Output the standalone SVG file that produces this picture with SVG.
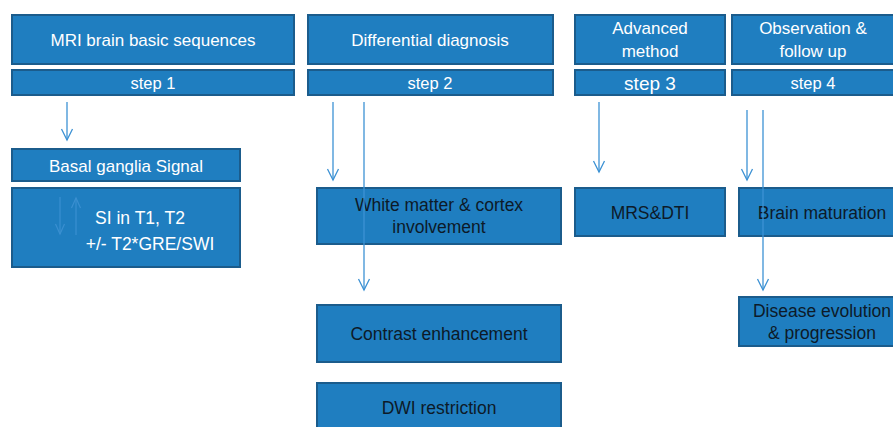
<svg xmlns="http://www.w3.org/2000/svg" width="893" height="427" viewBox="0 0 893 427">
<style>
.box{fill:#1f7ec0;stroke:#1b5c8c;stroke-width:2}
.w{fill:#ffffff;font-family:"Liberation Sans",Arial,sans-serif;font-size:17px;text-anchor:middle}
.k{fill:#0d1a28;font-family:"Liberation Sans",Arial,sans-serif;font-size:17.5px;text-anchor:middle}
.s{font-size:16.5px}
.conn{stroke:#3d92d4;stroke-width:1.3;fill:none}
.faint{stroke:#3a8fd0;stroke-width:1.2;fill:none}
</style>
<defs>
<marker id="ah" markerUnits="userSpaceOnUse" markerWidth="16" markerHeight="16" viewBox="-14 -8 16 16" refX="0" refY="0" orient="auto" overflow="visible">
<path d="M-11,-5.5 L0,0 L-11,5.5" fill="none" stroke="#3d92d4" stroke-width="1.3"/>
</marker>
<marker id="fh" markerUnits="userSpaceOnUse" markerWidth="16" markerHeight="16" viewBox="-14 -8 16 16" refX="0" refY="0" orient="auto" overflow="visible">
<path d="M-10,-4.5 L0,0 L-10,4.5" fill="none" stroke="#3a8fd0" stroke-width="1.2"/>
</marker>
</defs>
<g id="n-mri">
<rect class="box" x="12" y="15" width="282" height="49"/>
<text class="w" x="153" y="46">MRI brain basic sequences</text>
</g>
<g id="n-step1">
<rect class="box" x="12" y="70" width="282" height="25"/>
<text class="w s" x="153" y="89">step 1</text>
</g>
<g id="n-diff">
<rect class="box" x="308" y="15" width="245" height="49"/>
<text class="w" x="430" y="46">Differential diagnosis</text>
</g>
<g id="n-step2">
<rect class="box" x="308" y="70" width="245" height="25"/>
<text class="w s" x="430" y="89">step 2</text>
</g>
<g id="n-adv">
<rect class="box" x="575" y="15" width="150" height="49"/>
<text class="w" x="650" y="34">Advanced</text>
<text class="w" x="650" y="57">method</text>
</g>
<g id="n-step3">
<rect class="box" x="575" y="70" width="150" height="25"/>
<text class="w" x="650" y="90" style="font-size:19px">step 3</text>
</g>
<g id="n-obs">
<rect class="box" x="732" y="15" width="163" height="49"/>
<text class="w" x="813" y="34">Observation &amp;</text>
<text class="w" x="813" y="57">follow up</text>
</g>
<g id="n-step4">
<rect class="box" x="732" y="70" width="163" height="25"/>
<text class="w s" x="813" y="89">step 4</text>
</g>
<g id="n-basal">
<rect class="box" x="12" y="149" width="228" height="32"/>
<text class="w" x="126" y="172">Basal ganglia Signal</text>
</g>
<g id="n-si">
<rect class="box" x="12" y="188" width="228" height="79"/>
<path class="faint" d="M60,197 V234" marker-end="url(#fh)"/>
<path class="faint" d="M76,235 V198" marker-end="url(#fh)"/>
<text class="w" x="140" y="224" style="font-size:17.5px">SI in T1, T2</text>
<text class="w" x="150" y="250" style="font-size:17.5px">+/- T2*GRE/SWI</text>
</g>
<g id="n-white">
<rect class="box" x="317" y="188" width="244" height="56"/>
<text class="k" x="439" y="211">White matter &amp; cortex</text>
<text class="k" x="439" y="233">involvement</text>
</g>
<g id="n-contrast">
<rect class="box" x="317" y="305" width="244" height="57"/>
<text class="k" x="439" y="340">Contrast enhancement</text>
</g>
<g id="n-dwi">
<rect class="box" x="317" y="383" width="244" height="60"/>
<text class="k" x="439" y="414">DWI restriction</text>
</g>
<g id="n-mrs">
<rect class="box" x="575" y="188" width="150" height="48"/>
<text class="k" x="650" y="219">MRS&amp;DTI</text>
</g>
<g id="n-brain">
<rect class="box" x="739" y="188" width="168" height="48"/>
<text class="k" x="822" y="219">Brain maturation</text>
</g>
<g id="n-disease">
<rect class="box" x="739" y="297" width="168" height="49"/>
<text class="k" x="822" y="317">Disease evolution</text>
<text class="k" x="822" y="339">&amp; progression</text>
</g>
<g id="connectors">
<path class="conn" d="M67,102 V140" marker-end="url(#ah)"/>
<path class="conn" d="M333,102 V180" marker-end="url(#ah)"/>
<path class="conn" d="M364,102 V290" marker-end="url(#ah)"/>
<path class="conn" d="M599,102 V172" marker-end="url(#ah)"/>
<path class="conn" d="M747,110 V180" marker-end="url(#ah)"/>
<path class="conn" d="M763,110 V290" marker-end="url(#ah)"/>
</g>
</svg>
